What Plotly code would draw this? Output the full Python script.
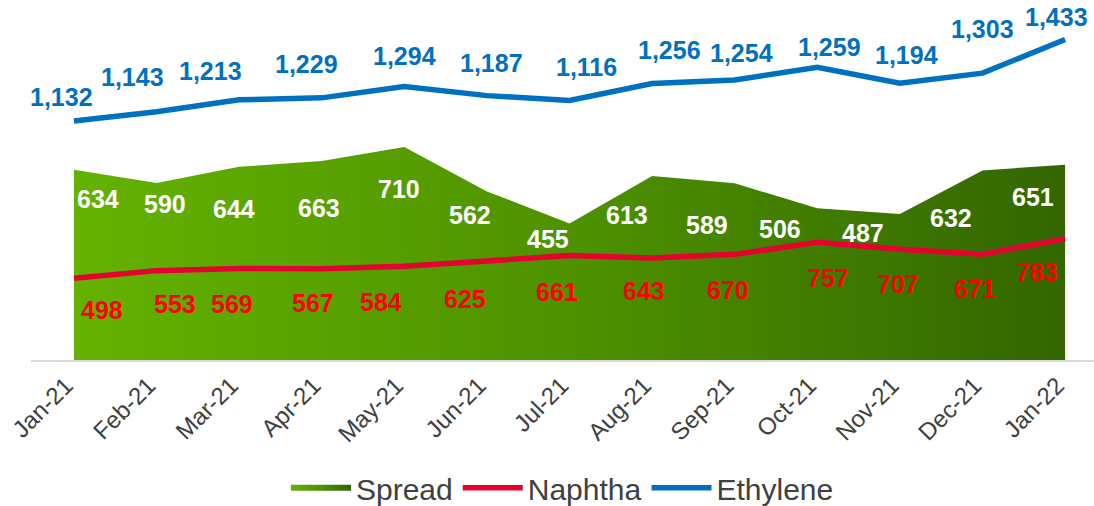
import plotly.graph_objects as go

months = ["Jan-21", "Feb-21", "Mar-21", "Apr-21", "May-21", "Jun-21", "Jul-21",
          "Aug-21", "Sep-21", "Oct-21", "Nov-21", "Dec-21", "Jan-22"]
ethylene = [1132, 1143, 1213, 1229, 1294, 1187, 1116, 1256, 1254, 1259, 1194, 1303, 1433]
naphtha = [498, 553, 569, 567, 584, 625, 661, 643, 670, 757, 707, 671, 783]
spread = [634, 590, 644, 663, 710, 562, 455, 613, 589, 506, 487, 632, 651]

# hand placement of the data labels (pixel nudges), as in the source chart
spread_dx = [24, 8, -5, -3, -5, -17, -22, -25, -28, -37, -37, -32, -32]
spread_dy = [29, 21, 42, 47, 42, 24, 15, 39, 42, 21, 19, 48, 32]
naphtha_dx = [28, 18, -7, -9, -23, -22, -13, -8, -7, 11, -2, -8, -28]
naphtha_dy = [32, 33, 36, 34, 36, 38, 36, 33, 36, 36, 35, 35, 33]
ethylene_dx = [-12, -24, -29, -15, 0, 5, 17, 17, 7, 12, 7, 0, -9]
ethylene_dy = [-24, -35, -29, -34, -30, -33, -33, -34, -27, -20, -28, -44, -22]

FONT = "Liberation Sans, Arial, sans-serif"
BLUE = "#0070C0"
RED_LINE = "#E4032E"
RED_TEXT = "#FF0000"

# the ethylene line in the source is a stacked line (sits on top of naphtha)
ethylene_stacked = [e + n for e, n in zip(ethylene, naphtha)]

fig = go.Figure()

fig.add_trace(go.Scatter(
    x=months, y=spread, name="Spread", mode="none",
    fill="tozeroy",
    fillgradient=dict(type="horizontal",
                      colorscale=[[0, "#64B200"], [0.5, "#4E9200"], [1, "#336600"]]),
    yaxis="y",
))
fig.add_trace(go.Scatter(
    x=months, y=naphtha, name="Naphtha", mode="lines",
    line=dict(color=RED_LINE, width=5.5),
    yaxis="y2",
))
fig.add_trace(go.Scatter(
    x=months, y=ethylene_stacked, name="Ethylene", mode="lines",
    line=dict(color=BLUE, width=5.5),
    yaxis="y2",
))

annotations = []
for i, (m, s) in enumerate(zip(months, spread)):
    annotations.append(dict(x=m, y=s, yref="y", text=str(s), showarrow=False,
                            xshift=spread_dx[i], yshift=-spread_dy[i],
                            font=dict(family=FONT, size=25, color="white", weight="bold")))
for i, (m, n) in enumerate(zip(months, naphtha)):
    annotations.append(dict(x=m, y=n, yref="y2", text=str(n), showarrow=False,
                            xshift=naphtha_dx[i], yshift=-naphtha_dy[i],
                            font=dict(family=FONT, size=25, color=RED_TEXT, weight="bold")))
for i, (m, e, top) in enumerate(zip(months, ethylene, ethylene_stacked)):
    annotations.append(dict(x=m, y=top, yref="y2", text=f"{e:,}", showarrow=False,
                            xshift=ethylene_dx[i], yshift=-ethylene_dy[i],
                            font=dict(family=FONT, size=25, color=BLUE, weight="bold")))

fig.update_layout(
    width=1094, height=506,
    margin=dict(l=31, r=0, t=0, b=146, autoexpand=False),
    paper_bgcolor="white", plot_bgcolor="white",
    font=dict(family=FONT, color="#404040"),
    showlegend=True,
    legend=dict(orientation="h", x=0.5, xanchor="center", y=-0.355, yanchor="middle",
                font=dict(size=30, color="#404040"), itemwidth=60),
    xaxis=dict(type="category", range=[-0.52, 12.35], tickangle=-45, automargin=False,
               tickfont=dict(size=24, color="#404040"), ticklabelshift=-8,
               showline=True, linecolor="#D9D9D9", linewidth=2,
               showgrid=False, ticks=""),
    yaxis=dict(range=[0, 1200], visible=False, showgrid=False),
    yaxis2=dict(range=[-90, 2500], overlaying="y", visible=False, showgrid=False),
    annotations=annotations,
)

# drop the page's default body margin so the chart sits at the window's corner
fig.write_html("out.html", config={"displayModeBar": False},
               post_script="document.body.style.margin='0';")
